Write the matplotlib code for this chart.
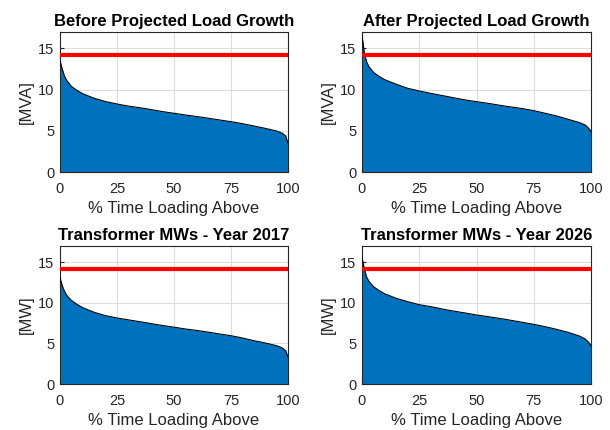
import numpy as np
import matplotlib
matplotlib.use("Agg")
import matplotlib.pyplot as plt

plt.rcParams['font.family'] = ['Liberation Sans', 'DejaVu Sans']

# % of time the loading is above the value
pct = [0, 1, 2, 3, 5, 7.5, 10, 15, 20, 25, 30, 37.5, 45, 50, 55, 62.5,
       70, 75, 80, 85, 90, 95, 97.5, 99, 100]

mva_before = [13.5, 12.5, 11.6, 11.1, 10.4, 9.9, 9.5, 8.95, 8.55, 8.26, 8.0, 7.7, 7.33,
              7.13, 6.92, 6.64, 6.32, 6.11, 5.87, 5.59, 5.3, 4.98, 4.7, 4.37, 3.5]
mva_after = [16.6, 14.5, 13.4, 12.8, 12.1, 11.6, 11.2, 10.65, 10.16, 9.84, 9.55, 9.15, 8.75,
             8.54, 8.34, 8.0, 7.7, 7.45, 7.13, 6.8, 6.4, 6.0, 5.7, 5.3, 4.9]
mw_2017 = [13.1, 12.1, 11.4, 10.9, 10.3, 9.8, 9.4, 8.83, 8.42, 8.13, 7.9, 7.56, 7.2,
           7.0, 6.78, 6.5, 6.16, 5.95, 5.67, 5.34, 5.05, 4.72, 4.43, 4.1, 3.3]
mw_2026 = [15.6, 14.2, 13.2, 12.65, 12.0, 11.5, 11.1, 10.55, 10.14, 9.77, 9.53, 9.1, 8.75,
           8.5, 8.3, 7.97, 7.6, 7.35, 7.06, 6.73, 6.37, 5.9, 5.54, 5.13, 4.7]

rating = 14.15

titles = ['Before Projected Load Growth', 'After Projected Load Growth',
          'Transformer MWs - Year 2017', 'Transformer MWs - Year 2026']
ylabels = ['[MVA]', '[MVA]', '[MW]', '[MW]']
series = [mva_before, mva_after, mw_2017, mw_2026]

W, H = 610, 430
fig = plt.figure(figsize=(W / 100, H / 100), dpi=100)

# left, top, right, bottom in pixels
boxes = [(60, 32, 288, 172), (362, 32, 591, 172),
         (60, 246, 288, 384), (362, 246, 591, 384)]

for (l, t, r, b), title, ylab, vals in zip(boxes, titles, ylabels, series):
    ax = fig.add_axes([l / W, 1 - b / H, (r - l) / W, (b - t) / H])
    ax.fill_between(pct, vals, 0, color='#0072BD', linewidth=0, zorder=2)
    ax.plot(pct, vals, color='black', linewidth=0.8, zorder=3)
    ax.axhline(rating, color='red', linewidth=3, zorder=4)
    ax.set_xlim(0, 100)
    ax.set_ylim(0, 17)
    ax.set_xticks([0, 25, 50, 75, 100])
    ax.set_yticks([0, 5, 10, 15])
    ax.grid(True, color='#dcdcdc', linewidth=0.8, zorder=0)
    ax.set_axisbelow(True)
    ax.tick_params(direction='in', length=3, labelsize=10.5, colors='#262626')
    ax.tick_params(axis='x', pad=7)
    ax.tick_params(axis='y', pad=4)
    for s in ax.spines.values():
        s.set_color('#262626')
        s.set_linewidth(0.8)
    ax.set_title(title, fontsize=12, fontweight='bold', pad=4)
    ax.set_ylabel(ylab, fontsize=12, color='#262626', labelpad=3)
    ax.set_xlabel('% Time Loading Above', fontsize=12, color='#262626',
                  labelpad=4)

fig.savefig('out.png', dpi=100)
